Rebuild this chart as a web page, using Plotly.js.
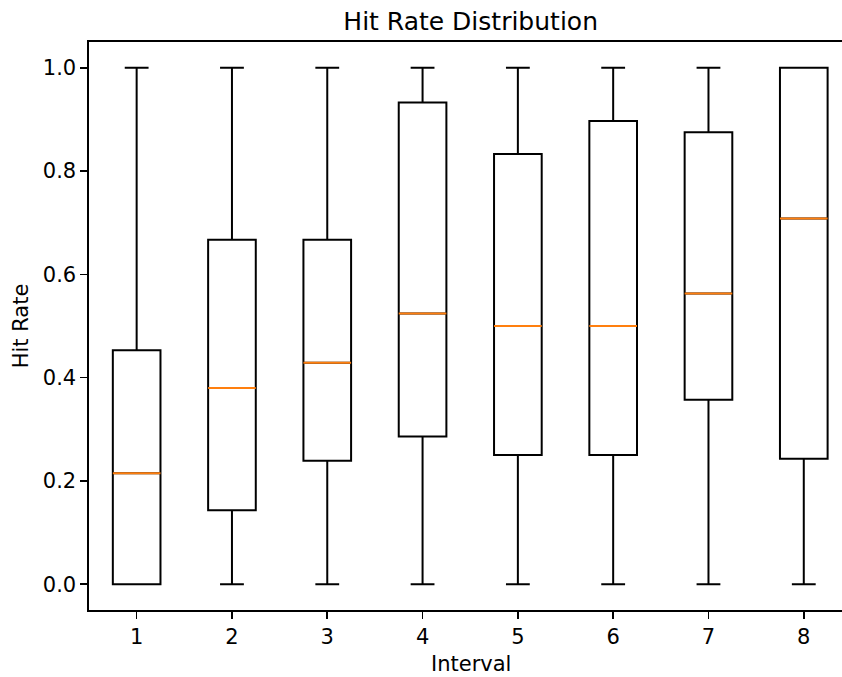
<!DOCTYPE html>
<html><head><meta charset="utf-8">
<script src="https://cdn.plot.ly/plotly-3.0.1.min.js"></script>
<style>body{margin:0;padding:0;background:#fff}#c{width:842px;height:677px}</style>
</head><body><div id="c"></div>
<script>
const intervals = [1, 2, 3, 4, 5, 6, 7, 8];
const lowerWhisker = [0, 0, 0, 0, 0, 0, 0, 0];
const q1Values = [0, 0.143, 0.239, 0.286, 0.25, 0.25, 0.357, 0.243];
const medianValues = [0.215, 0.38, 0.429, 0.524, 0.5, 0.5, 0.563, 0.708];
const q3Values = [0.453, 0.667, 0.667, 0.933, 0.833, 0.897, 0.875, 1.0];
const upperWhisker = [1, 1, 1, 1, 1, 1, 1, 1];

const boxWidth = 0.5;
const boxTrace = {
  type: 'box',
  x: intervals,
  q1: q1Values,
  median: medianValues,
  q3: q3Values,
  lowerfence: lowerWhisker,
  upperfence: upperWhisker,
  width: boxWidth,
  whiskerwidth: 0.5,
  fillcolor: 'rgba(0,0,0,0)',
  line: {color: 'black', width: 2},
  boxpoints: false,
  hoverinfo: 'skip',
  showlegend: false
};
const mx = [], my = [];
intervals.forEach((c, i) => {
  mx.push(c - boxWidth / 2, c + boxWidth / 2, null);
  my.push(medianValues[i], medianValues[i], null);
});
const medTrace = {
  type: 'scatter', mode: 'lines', x: mx, y: my,
  line: {color: '#ff7f0e', width: 2},
  hoverinfo: 'skip', showlegend: false
};
const font = {family: 'DejaVu Sans', size: 21, color: 'black'};
const layout = {
  width: 842, height: 677,
  margin: {l: 89, r: 0, t: 42, b: 67},
  paper_bgcolor: 'white', plot_bgcolor: 'white',
  font: font,
  title: {text: 'Hit Rate Distribution', font: {family: 'DejaVu Sans', size: 25, color: 'black'}, x: 0.559, xref: 'container', xanchor: 'center', y: 1, yref: 'paper', yanchor: 'bottom', pad: {b: 12}},
  annotations: [{
    text: 'Interval', xref: 'paper', yref: 'paper', x: 0.507, y: 0, xanchor: 'center', yanchor: 'top',
    yshift: -40, showarrow: false, font: {family: 'DejaVu Sans', size: 21, color: 'black'}
  }],
  xaxis: {
    range: [0.5, 8.401], tickvals: intervals, ticktext: intervals.map(String),
    ticks: 'outside', ticklen: 7, tickwidth: 1.6, tickcolor: 'black',
    showgrid: false, zeroline: false, showline: true, linecolor: 'black', linewidth: 1.6, mirror: true,
    tickfont: font
  },
  yaxis: {
    range: [-0.05, 1.05], tickvals: [0, 0.2, 0.4, 0.6, 0.8, 1.0], ticktext: ['0.0', '0.2', '0.4', '0.6', '0.8', '1.0'],
    ticks: 'outside', ticklen: 7, tickwidth: 1.6, tickcolor: 'black',
    showgrid: false, zeroline: false, showline: true, linecolor: 'black', linewidth: 1.6, mirror: false,
    title: {text: 'Hit Rate', font: {family: 'DejaVu Sans', size: 21, color: 'black'}, standoff: 8},
    tickfont: font
  }
};
Plotly.newPlot('c', [boxTrace, medTrace], layout, {displayModeBar: false, staticPlot: true});
</script></body></html>
